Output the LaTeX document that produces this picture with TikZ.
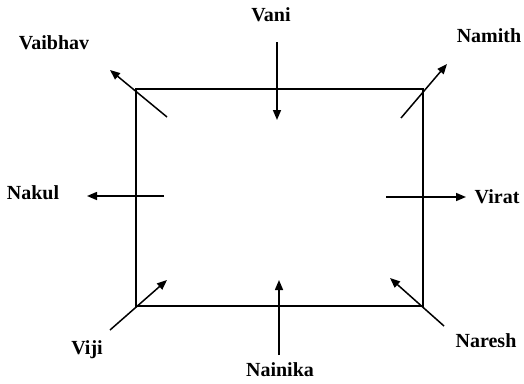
\documentclass[tikz,border=0pt]{standalone}
\usepackage{fontspec}
\setmainfont{Liberation Serif}
\usetikzlibrary{arrows.meta}
\begin{document}
\begin{tikzpicture}[x=1pt,y=-1pt,
  lbl/.style={font=\fontsize{20}{22}\selectfont\bfseries, inner sep=0pt},
  arr/.style={line width=1.5pt, -{Triangle[length=10pt,width=8pt]}},
  box/.style={line width=1.7pt}]
\useasboundingbox (0,0) rectangle (524,383);
\draw[box] (136,89) rectangle (423,306);
% labels
\node[lbl] (vaibhav) at (54,43) {Vaibhav};
\node[lbl] (vani) at (271,15) {Vani};
\node[lbl] (namith) at (489,36) {Namith};
\node[lbl] (nakul) at (33,193) {Nakul};
\node[lbl] (virat) at (497,197) {Virat};
\node[lbl] (viji) at (87,350) {Viji};
\node[lbl] (nainika) at (280,370) {Nainika};
\node[lbl] (naresh) at (486,341) {Naresh};
% arrow coordinates
\coordinate (a1s) at (167,117); \coordinate (a1e) at (110,70);
\coordinate (a2s) at (277,42); \coordinate (a2e) at (277,120);
\coordinate (a3s) at (401,118); \coordinate (a3e) at (447,64);
\coordinate (a4s) at (164,196); \coordinate (a4e) at (87,196);
\coordinate (a5s) at (386,197); \coordinate (a5e) at (466,197);
\coordinate (a6s) at (110,330); \coordinate (a6e) at (167,280);
\coordinate (a7s) at (279,355); \coordinate (a7e) at (279,280);
\coordinate (a8s) at (444,326); \coordinate (a8e) at (390,278);
\draw[arr] (a1s) -- (a1e);
\draw[arr] (a2s) -- (a2e);
\draw[arr] (a3s) -- (a3e);
\draw[arr] (a4s) -- (a4e);
\draw[arr] (a5s) -- (a5e);
\draw[arr] (a6s) -- (a6e);
\draw[arr] (a7s) -- (a7e);
\draw[arr] (a8s) -- (a8e);
\end{tikzpicture}
\end{document}
